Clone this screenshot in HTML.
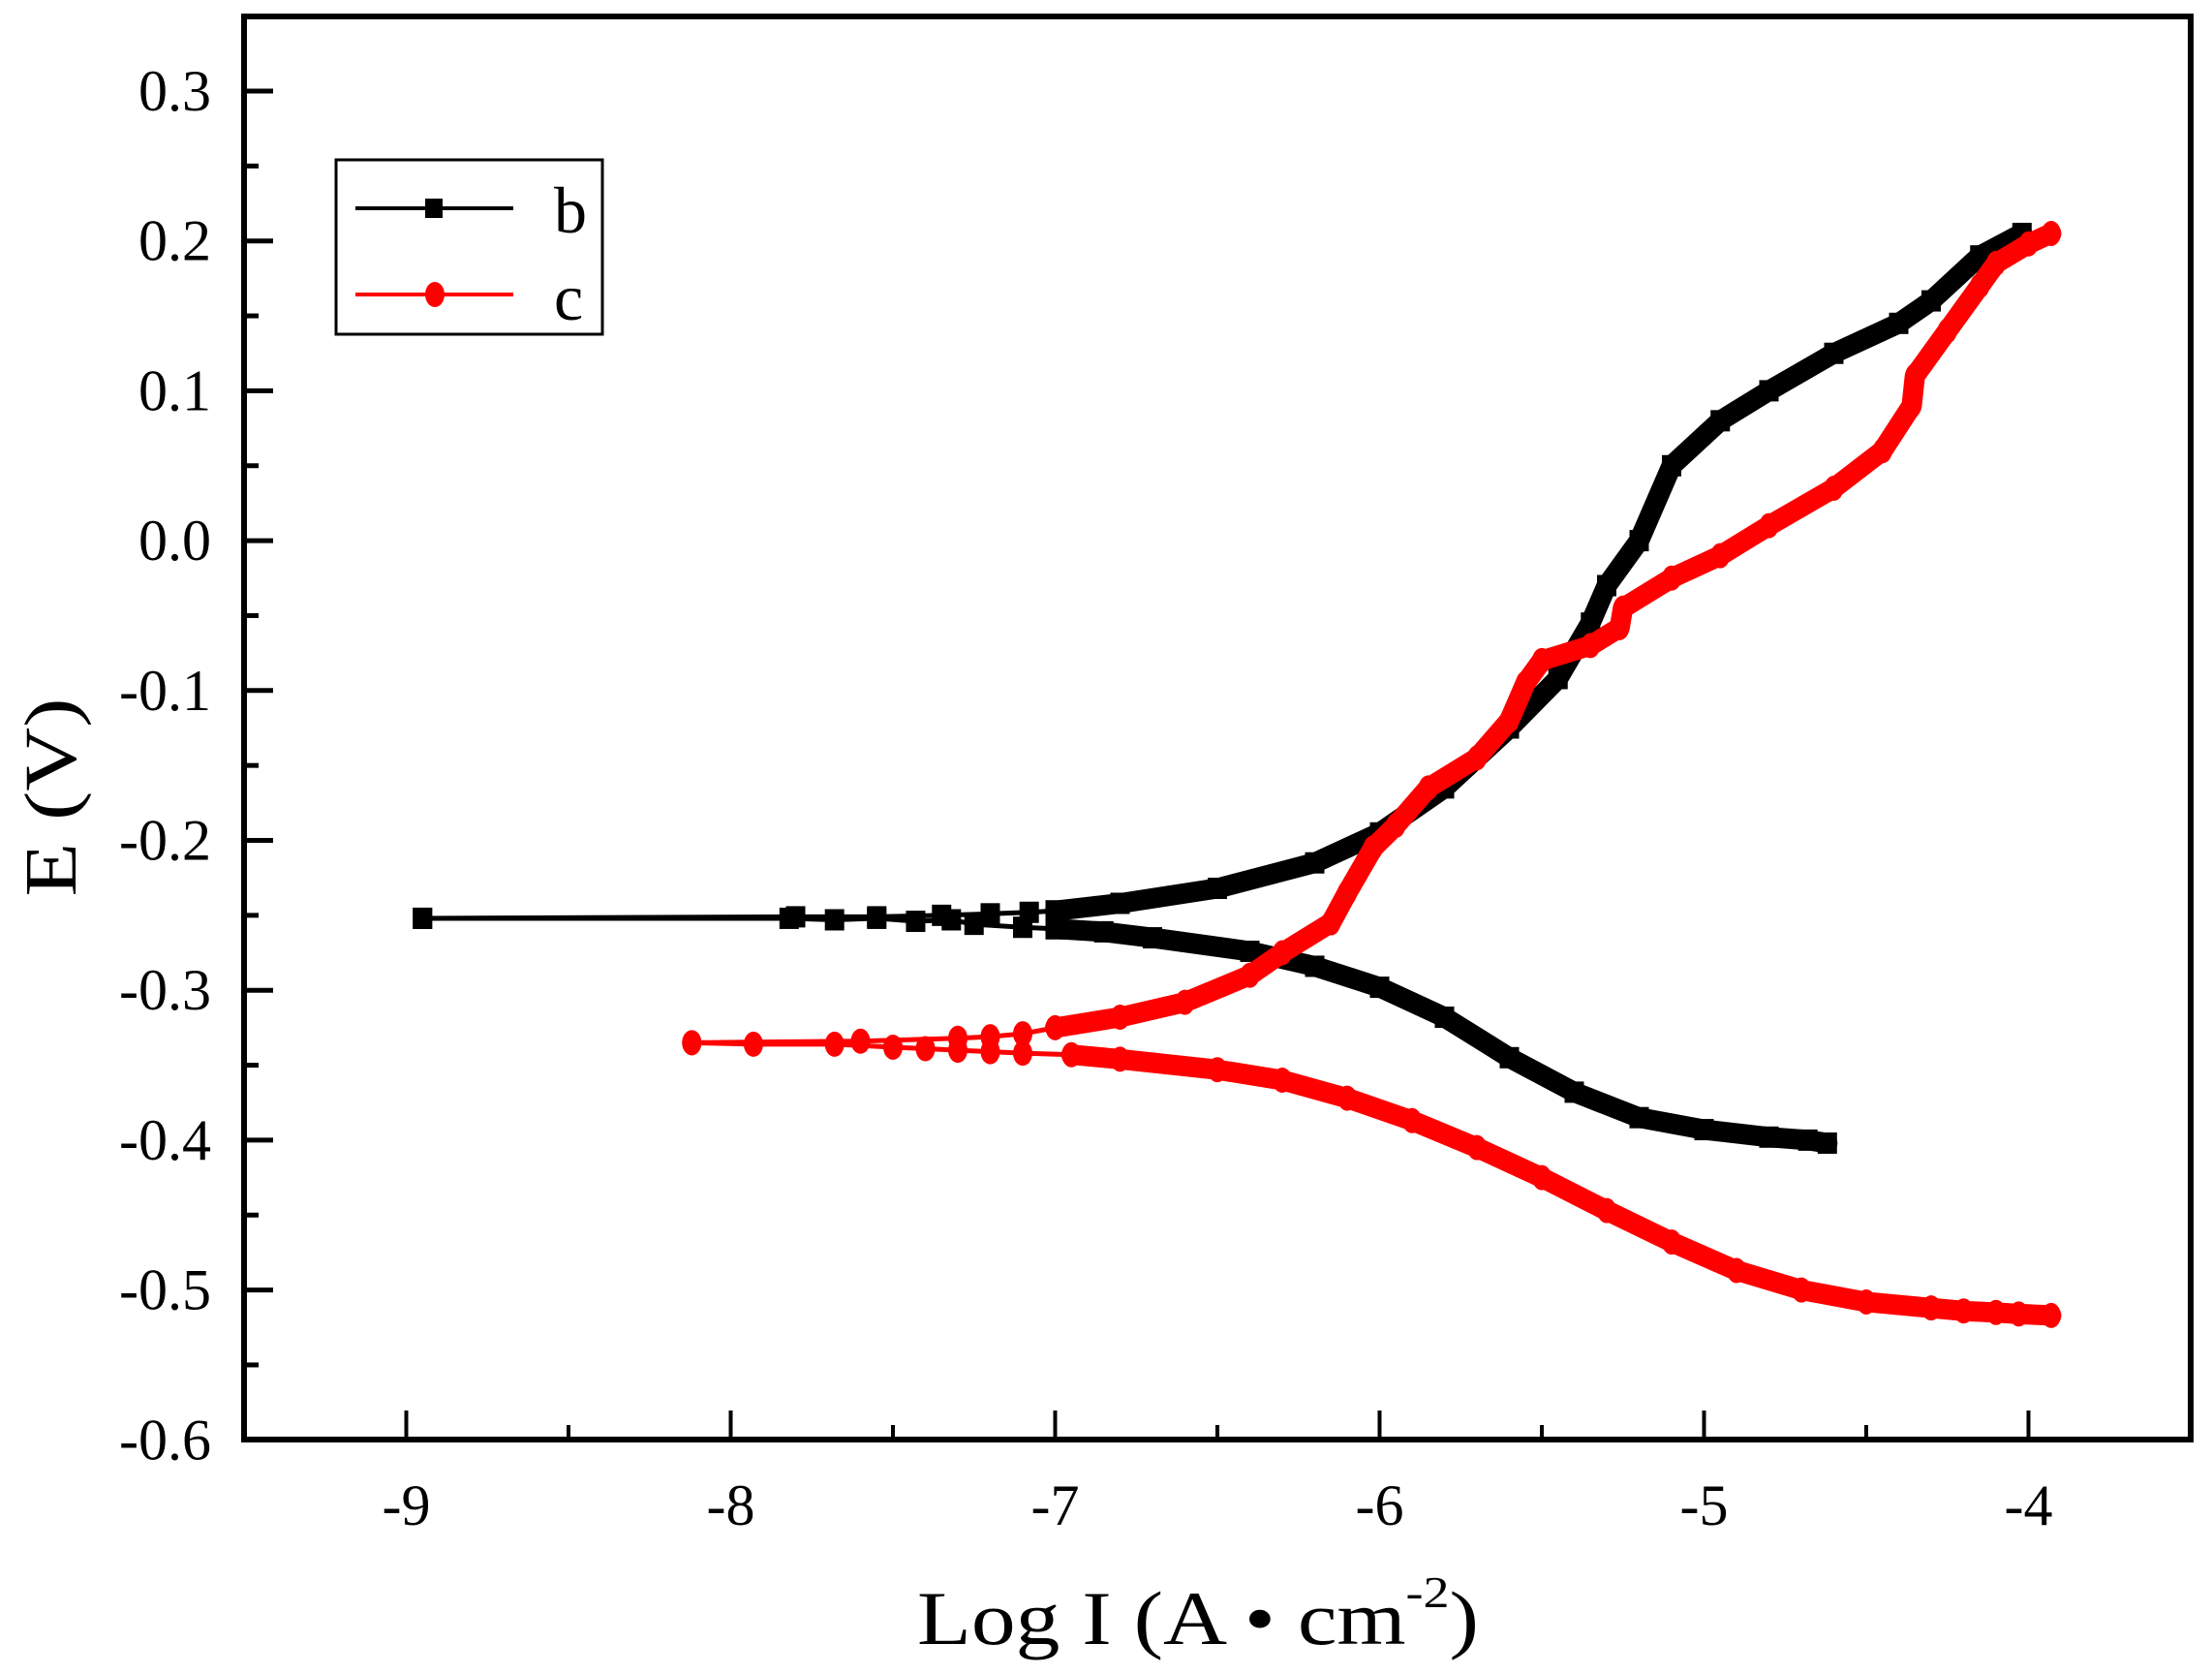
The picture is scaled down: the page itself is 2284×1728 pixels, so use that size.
<!DOCTYPE html>
<html><head><meta charset="utf-8"><style>
html,body{margin:0;padding:0;background:#fff;}
svg{display:block;font-family:"Liberation Serif",serif;}
</style></head><body>
<svg id="chart" width="2284" height="1728" viewBox="0 0 2284 1728" xmlns="http://www.w3.org/2000/svg">
<g id="marks"></g>
<g id="axes"></g>
<g>
  <rect x="347" y="165" width="275" height="180" fill="#fff" stroke="#000" stroke-width="3"/>
  <g>
    <line x1="367" y1="215" x2="530" y2="215" stroke="#000" stroke-width="4"/>
    <rect x="439" y="205" width="18" height="20" fill="#000"/>
    <text x="572" y="240" font-size="68" text-anchor="start">b</text>
  </g>
  <g>
    <line x1="367" y1="304" x2="530" y2="304" stroke="#f00" stroke-width="4"/>
    <ellipse cx="449" cy="304" rx="10" ry="13" fill="#f00"/>
    <text x="572" y="330" font-size="68">c</text>
  </g>
</g>
<text x="947" y="1697" font-size="78" textLength="580" lengthAdjust="spacingAndGlyphs">Log I (A • cm<tspan font-size="46" dy="-38">-2</tspan><tspan dy="38">)</tspan></text>
<text transform="translate(78,823) rotate(-90)" font-size="76" text-anchor="middle" textLength="205" lengthAdjust="spacingAndGlyphs">E (V)</text>
</svg>
<script>
const xTicks = [-9,-8,-7,-6,-5,-4];
const yTicks = [0.3,0.2,0.1,0.0,-0.1,-0.2,-0.3,-0.4,-0.5,-0.6];
const yTickLabels = ["0.3","0.2","0.1","0.0","-0.1","-0.2","-0.3","-0.4","-0.5","-0.6"];

const bCathLogI = [-8.95,-7.82,-7.68,-7.55,-7.43,-7.32,-7.25,-7.1,-7.0,-6.85,-6.7,-6.4,-6.2,-6.0,-5.8,-5.6,-5.4,-5.2,-5.0,-4.8,-4.68,-4.62];
const bCathE    = [-0.252,-0.252,-0.253,-0.252,-0.254,-0.253,-0.256,-0.258,-0.259,-0.261,-0.265,-0.274,-0.284,-0.298,-0.318,-0.345,-0.368,-0.385,-0.393,-0.398,-0.400,-0.402];
const bAnoLogI  = [-8.95,-7.8,-7.55,-7.35,-7.2,-7.08,-7.0,-6.8,-6.5,-6.2,-6.0,-5.8,-5.6,-5.45,-5.35,-5.3,-5.2,-5.1,-4.95,-4.8,-4.6,-4.4,-4.3,-4.15,-4.02];
const bAnoE     = [-0.252,-0.251,-0.251,-0.250,-0.249,-0.248,-0.247,-0.242,-0.232,-0.215,-0.195,-0.165,-0.125,-0.092,-0.055,-0.030,0.000,0.050,0.080,0.100,0.125,0.145,0.160,0.190,0.205];

const cCathLogI = [-8.12,-7.93,-7.68,-7.5,-7.4,-7.3,-7.2,-7.1,-6.95,-6.8,-6.5,-6.3,-6.1,-5.9,-5.7,-5.5,-5.3,-5.1,-4.9,-4.7,-4.5,-4.3,-4.2,-4.1,-4.03,-3.93];
const cCathE    = [-0.335,-0.336,-0.336,-0.338,-0.339,-0.340,-0.341,-0.342,-0.343,-0.346,-0.353,-0.360,-0.372,-0.387,-0.405,-0.425,-0.447,-0.468,-0.487,-0.500,-0.508,-0.512,-0.514,-0.515,-0.516,-0.517];
const cAnoLogI  = [-8.12,-7.6,-7.3,-7.2,-7.1,-7.0,-6.8,-6.6,-6.4,-6.3,-6.15,-6.1,-6.02,-5.95,-5.85,-5.7,-5.6,-5.55,-5.5,-5.35,-5.26,-5.25,-5.1,-4.95,-4.8,-4.6,-4.45,-4.36,-4.35,-4.25,-4.15,-4.1,-4.0,-3.93];
const cAnoE     = [-0.335,-0.334,-0.332,-0.331,-0.329,-0.325,-0.318,-0.308,-0.290,-0.275,-0.255,-0.235,-0.205,-0.190,-0.165,-0.145,-0.120,-0.095,-0.080,-0.070,-0.058,-0.045,-0.025,-0.010,0.010,0.035,0.060,0.090,0.110,0.140,0.170,0.185,0.198,0.205];

const L=252,R=2262,T=17,B=1486;
const xs=v=>419.5+(v+9)*335;
const ys=v=>94+(0.3-v)*1547;
const NS="http://www.w3.org/2000/svg";
function mk(tag,attrs,parent){const e=document.createElementNS(NS,tag);for(const k in attrs)e.setAttribute(k,attrs[k]);parent.appendChild(e);return e;}
const axes=document.getElementById('axes'), marks=document.getElementById('marks');

function series(lx,ly,color,shape,name){
  const g=mk('g',{},marks);
  
  
  const pts=lx.map((v,i)=>xs(v)+','+ys(ly[i])).join(' ');
  mk('polyline',{points:pts,fill:'none',stroke:color,'stroke-width':5},g);
  const dense=[];lx.forEach((v,i)=>{if(v>-7.05)dense.push(xs(v)+','+ys(ly[i]));});
  mk('polyline',{points:dense.join(' '),fill:'none',stroke:color,'stroke-width':21,'stroke-linejoin':'round','stroke-linecap':'round'},g);
  lx.forEach((v,i)=>{
    let m;
    if(shape==='sq') m=mk('rect',{x:xs(v)-10,y:ys(ly[i])-11,width:20,height:22,fill:color},g);
    else m=mk('ellipse',{cx:xs(v),cy:ys(ly[i]),rx:10,ry:13,fill:color},g);
    
    
  });
}
series(bCathLogI,bCathE,'#000','sq','series-b-cathodic');
series(bAnoLogI,bAnoE,'#000','sq','series-b-anodic');
series(cCathLogI,cCathE,'#f00','ci','series-c-cathodic');
series(cAnoLogI,cAnoE,'#f00','ci','series-c-anodic');

mk('rect',{x:L,y:T,width:R-L,height:B-T,fill:'none',stroke:'#000','stroke-width':6},axes);
xTicks.forEach((v,i)=>{
  const x=xs(v);
  mk('line',{x1:x,y1:B,x2:x,y2:B-30,stroke:'#000','stroke-width':4},axes);
  if(i<xTicks.length-1) mk('line',{x1:xs(v+0.5),y1:B,x2:xs(v+0.5),y2:B-15,stroke:'#000','stroke-width':4},axes);
  const t=mk('text',{x:x,y:B+88,'font-size':60,'text-anchor':'middle'},axes);
  t.textContent=String(v);
  
  
});
yTicks.forEach((v,i)=>{
  const y=ys(v);
  mk('line',{x1:L,y1:y,x2:L+30,y2:y,stroke:'#000','stroke-width':5},axes);
  if(i<yTicks.length-1) mk('line',{x1:L,y1:ys(v-0.05),x2:L+15,y2:ys(v-0.05),stroke:'#000','stroke-width':5},axes);
  const t=mk('text',{x:L-34,y:y+20,'font-size':60,'text-anchor':'end'},axes);
  t.textContent=yTickLabels[i];
  
  
});
</script>
</body></html>
